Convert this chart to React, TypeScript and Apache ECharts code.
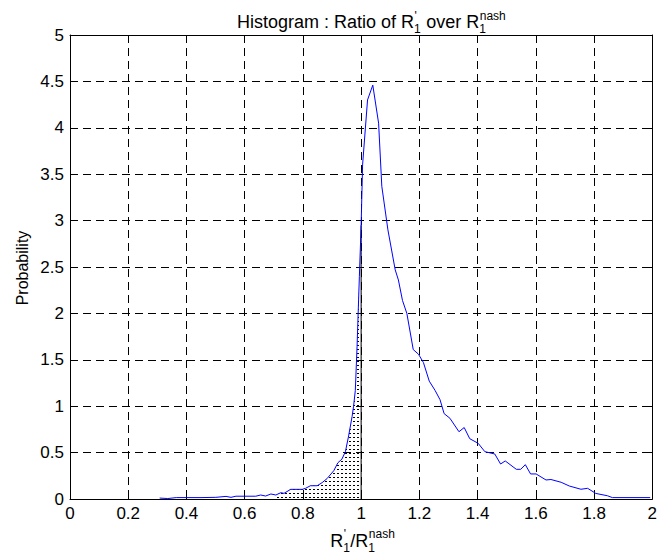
import React, { useEffect, useRef } from "react";
import * as echarts from "echarts";

// Histogram curve: ratio R'1/R1nash (x) vs probability (y)
const ratioX = [
  0.308, 0.336, 0.365, 0.4, 0.45, 0.501, 0.536, 0.553, 0.57, 0.6, 0.638, 0.655,
  0.672, 0.69, 0.707, 0.724, 0.735, 0.758, 0.798, 0.809, 0.826, 0.849, 0.866,
  0.883, 0.906, 0.92, 0.934, 0.946, 0.957, 0.969, 0.974, 0.98, 0.986, 0.994,
  1.0, 1.005, 1.022, 1.04, 1.06, 1.071, 1.092, 1.117, 1.128, 1.142, 1.157,
  1.179, 1.197, 1.214, 1.234, 1.254, 1.271, 1.285, 1.305, 1.336, 1.354, 1.373,
  1.402, 1.425, 1.459, 1.479, 1.495, 1.533, 1.548, 1.564, 1.582, 1.601, 1.635,
  1.652, 1.687, 1.715, 1.755, 1.778, 1.806, 1.846, 1.863, 1.993,
];
const probY = [
  0.01, 0.005, 0.015, 0.015, 0.015, 0.018, 0.028, 0.018, 0.03, 0.03, 0.03, 0.043,
  0.032, 0.054, 0.043, 0.068, 0.061, 0.104, 0.104, 0.115, 0.143, 0.143, 0.176,
  0.22, 0.305, 0.39, 0.43, 0.51, 0.68, 0.89, 1.0, 1.17, 1.64, 2.4,
  2.95, 3.6, 4.3, 4.46, 4.05, 3.37, 2.9, 2.47, 2.36, 2.14, 2.0,
  1.61, 1.56, 1.47, 1.27, 1.17, 1.07, 0.92, 0.87, 0.725, 0.77, 0.65,
  0.6, 0.51, 0.485, 0.377, 0.41, 0.32, 0.32, 0.37, 0.27, 0.27, 0.205,
  0.21, 0.18, 0.14, 0.105, 0.115, 0.06, 0.035, 0.015, 0.015,
];

// shaded (dotted) region under the curve
const shadeFrom = 0.7;
const shadeTo = 1.0;

// axes
const xMin = 0, xMax = 2, xStep = 0.2;
const yMin = 0, yMax = 5, yStep = 0.5;

// labels: plain runs and stacked superscript/subscript pairs
type Piece = { t?: string; sup?: string; sub?: string };
const titlePieces: Piece[] = [
  { t: "Histogram : Ratio of R" },
  { sup: "'", sub: "1" },
  { t: " over R" },
  { sup: "nash", sub: "1" },
];
const xLabelPieces: Piece[] = [
  { t: "R" },
  { sup: "'", sub: "1" },
  { t: "/R" },
  { sup: "nash", sub: "1" },
];
const yLabelText = "Probability";

const FONT = '"Liberation Sans", Arial, Helvetica, sans-serif';

let measureCtx: CanvasRenderingContext2D | null = null;
function measure(text: string, fs: number) {
  if (!measureCtx) measureCtx = document.createElement("canvas").getContext("2d");
  measureCtx!.font = `${fs}px ${FONT}`;
  return measureCtx!.measureText(text).width;
}

function txt(text: string, x: number, baseline: number, fs: number) {
  return {
    type: "text",
    x,
    y: baseline - 0.35 * fs,
    silent: true,
    style: {
      text,
      fill: "#000",
      fontSize: fs,
      fontFamily: FONT,
      align: "left",
      verticalAlign: "middle",
    },
  };
}

function mathText(pieces: Piece[], startX: number, baseline: number, fs: number, sfs: number) {
  const out: any[] = [];
  let x = startX;
  for (const p of pieces) {
    if (p.t !== undefined) {
      out.push(txt(p.t, x, baseline, fs));
      x += measure(p.t, fs);
    } else {
      const w1 = measure(p.sup || "", sfs);
      const w2 = measure(p.sub || "", sfs);
      out.push(txt(p.sup || "", x + 0.5, baseline - 8.5, sfs));
      out.push(txt(p.sub || "", x, baseline + 5, sfs));
      x += Math.max(w1, w2) + 0.5;
    }
  }
  return { items: out, width: x - startX };
}

export default function App() {
  const ref = useRef<HTMLDivElement>(null);

  useEffect(() => {
    if (!ref.current) return;
    const chart = echarts.init(ref.current, null, { renderer: "svg" });

    const curve = ratioX.map((x, i) => [x, probY[i]]);
    const shade = curve.filter((p) => p[0] >= shadeFrom && p[0] <= shadeTo);
    const edgeIdx = ratioX.indexOf(shadeTo);
    const edgeY = probY[edgeIdx];

    const cv = document.createElement("canvas");
    cv.width = 4;
    cv.height = 4;
    const ctx = cv.getContext("2d")!;
    ctx.fillStyle = "#000";
    ctx.fillRect(1, 1, 2, 1);

    const axisCommon = {
      type: "value",
      axisLine: { show: true, onZero: false, lineStyle: { color: "#000", width: 1 } },
      axisTick: { show: true, inside: true, length: 5, lineStyle: { color: "#000" } },
    };

    const title = mathText(titlePieces, 237, 28.3, 18, 12);
    const xlab0 = mathText(xLabelPieces, 0, 547, 18, 12);
    const xlab = mathText(xLabelPieces, 362.5 - xlab0.width / 2, 547, 18, 12);

    const option: any = {
      animation: false,
      backgroundColor: "#fff",
      grid: { left: 70, right: 5, top: 35, bottom: 57, containLabel: false },
      xAxis: [
        {
          ...axisCommon,
          min: xMin,
          max: xMax,
          interval: xStep,
          position: "bottom",
          axisLabel: { color: "#000", fontSize: 17, fontFamily: FONT, margin: 6 },
          splitLine: { show: true, lineStyle: { color: "#000", width: 1, type: [8, 5] } },
        },
        {
          ...axisCommon,
          min: xMin,
          max: xMax,
          interval: xStep,
          position: "top",
          axisLabel: { show: false },
          splitLine: { show: false },
        },
      ],
      yAxis: [
        {
          ...axisCommon,
          min: yMin,
          max: yMax,
          interval: yStep,
          position: "left",
          axisLabel: { color: "#000", fontSize: 17, fontFamily: FONT, margin: 6 },
          splitLine: { show: true, lineStyle: { color: "#000", width: 1, type: [8, 5] } },
        },
        {
          ...axisCommon,
          min: yMin,
          max: yMax,
          interval: yStep,
          position: "right",
          axisLabel: { show: false },
          splitLine: { show: false },
        },
      ],
      series: [
        {
          type: "line",
          data: shade,
          symbol: "none",
          lineStyle: { width: 0, opacity: 0 },
          areaStyle: { color: { image: cv, repeat: "repeat" }, opacity: 1 },
          z: 1,
          silent: true,
        },
        {
          type: "line",
          data: [
            [shadeTo, 0],
            [shadeTo, edgeY],
          ],
          symbol: "none",
          lineStyle: { color: "#000", width: 1 },
          z: 2,
          silent: true,
        },
        {
          type: "line",
          data: curve,
          symbol: "none",
          lineStyle: { color: "#0000ff", width: 1 },
          itemStyle: { color: "#0000ff" },
          z: 3,
          silent: true,
        },
      ],
      graphic: [
        ...title.items,
        ...xlab.items,
        {
          type: "text",
          x: 22,
          y: 268,
          rotation: Math.PI / 2,
          silent: true,
          style: {
            text: yLabelText,
            fill: "#000",
            fontSize: 16,
            fontFamily: FONT,
            align: "center",
            verticalAlign: "middle",
          },
        },
      ],
    };

    chart.setOption(option);
    return () => chart.dispose();
  }, []);

  return (
    <div
      ref={ref}
      style={{ position: "absolute", left: 0, top: 0, width: 660, height: 556, background: "#fff" }}
    />
  );
}
